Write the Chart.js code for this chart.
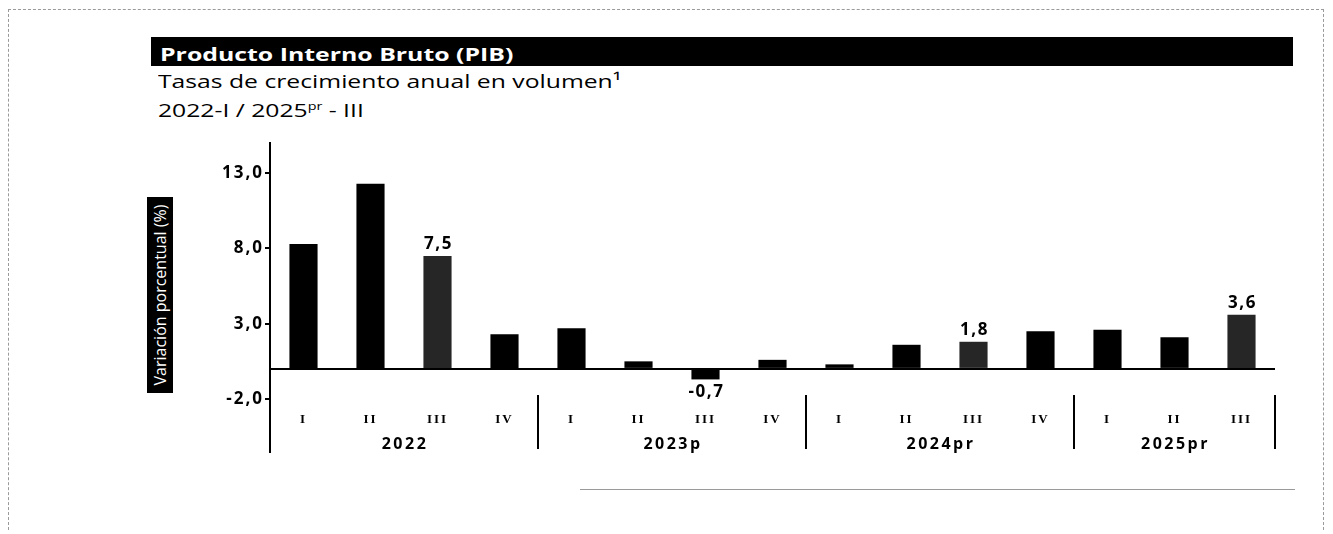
<!DOCTYPE html>
<html lang="es">
<head>
<meta charset="utf-8">
<title>Producto Interno Bruto (PIB)</title>
<script src="https://cdn.jsdelivr.net/npm/chart.js@4/dist/chart.umd.min.js"></script>
<style>
  html, body { margin: 0; padding: 0; background: #fff; }
  body { width: 1333px; height: 534px; position: relative; overflow: hidden; font-family: "Open Sans", sans-serif; }
  #frame { position: absolute; left: 8px; top: 9px; width: 1314px; height: 520px; border: 1px dashed #9a9a9a; border-bottom: none; }
  #bottomLine { position: absolute; left: 580px; top: 489px; width: 715px; border-top: 1px solid #9a9a9a; }
  #titleBar { position: absolute; left: 151px; top: 37px; width: 1142px; height: 29px; background: #000; color: #fff; font-weight: bold; font-size: 18px; line-height: 34px; padding-left: 9px; box-sizing: border-box; overflow: hidden; white-space: nowrap; }
  .wide { display: inline-block; transform: scaleX(1.38); transform-origin: left center; white-space: nowrap; }
  .sub { position: absolute; left: 158px; font-size: 19px; line-height: 20px; color: #000; }
  .sub sup { font-size: 11px; vertical-align: 7px; line-height: 0; }
  #yTitle { position: absolute; left: 62px; top: 282px; width: 196px; height: 26px; background: #000; color: #fff; font-size: 16px; line-height: 26px; text-align: center; transform: rotate(-90deg); }
  #chart { position: absolute; left: 0; top: 0; }
</style>
</head>
<body>
<div id="frame"></div>
<div id="bottomLine"></div>
<div id="titleBar"><span class="wide">Producto Interno Bruto (PIB)</span></div>
<div class="sub" style="top: 71px;"><span class="wide" style="transform: scaleX(1.3);">Tasas de crecimiento anual en volumen¹</span></div>
<div class="sub" style="top: 100px;"><span class="wide" style="transform: scaleX(1.3);">2022-I / 2025<sup>pr</sup> - III</span></div>
<div id="yTitle">Variación porcentual (%)</div>
<canvas id="chart" width="1333" height="534"></canvas>
<script>
"use strict";

const quarters = ["I", "II", "III", "IV", "I", "II", "III", "IV", "I", "II", "III", "IV", "I", "II", "III"];
const years = ["2022", "2023p", "2024pr", "2025pr"];
const yearOfQuarter = [0, 0, 0, 0, 1, 1, 1, 1, 2, 2, 2, 2, 3, 3, 3];
const growth = [8.3, 12.3, 7.5, 2.3, 2.7, 0.5, -0.7, 0.6, 0.3, 1.6, 1.8, 2.5, 2.6, 2.1, 3.6];
const labelled = [2, 6, 10, 14];
const highlighted = [2, 10, 14];
const yTicks = [-2, 0, 3, 8, 13];

const fmt = (v) => v.toFixed(1).replace(".", ",");

// axis extension, year separators, year names and value labels
const extras = {
	id: "extras",
	beforeDraw(chart) {
		chart.ctx.letterSpacing = "2px";
	},
	afterDraw(chart) {
		const { ctx } = chart;
		const x = chart.scales.x;
		const y = chart.scales.y;
		const step = x.getPixelForValue(1) - x.getPixelForValue(0);
		ctx.save();
		ctx.strokeStyle = "#000";
		ctx.lineWidth = 2;
		ctx.beginPath();
		ctx.moveTo(x.left, y.bottom);
		ctx.lineTo(x.left, y.bottom + 54);
		for (let i = 1; i <= quarters.length; i++) {
			if (i < quarters.length && yearOfQuarter[i] === yearOfQuarter[i - 1]) continue;
			const px = x.getPixelForValue(i - 1) + step / 2;
			ctx.moveTo(px, y.bottom - 4);
			ctx.lineTo(px, y.bottom + 50);
		}
		ctx.stroke();

		ctx.fillStyle = "#000";
		ctx.textAlign = "center";
		ctx.font = "bold 16px 'Open Sans'";
		ctx.letterSpacing = "2.5px";
		ctx.textBaseline = "middle";
		years.forEach((name, k) => {
			const idx = yearOfQuarter.map((g, i) => (g === k ? i : -1)).filter((i) => i >= 0);
			const mid = idx.reduce((s, i) => s + x.getPixelForValue(i), 0) / idx.length;
			ctx.fillText(name, mid + 1, y.bottom + 45);
		});

		const meta = chart.getDatasetMeta(0);
		ctx.font = "bold 17px 'Open Sans'";
		ctx.letterSpacing = "1.5px";
		labelled.forEach((i) => {
			const bar = meta.data[i];
			if (growth[i] >= 0) {
				ctx.textBaseline = "bottom";
				ctx.fillText(fmt(growth[i]), bar.x + 1, bar.y - 3);
			} else {
				ctx.textBaseline = "top";
				ctx.fillText(fmt(growth[i]), bar.x + 1, bar.y + 4);
			}
		});
		ctx.restore();
	},
};

new Chart(document.getElementById("chart"), {
	type: "bar",
	data: {
		labels: quarters,
		datasets: [
			{
				data: growth,
				backgroundColor: growth.map((v, i) => (highlighted.includes(i) ? "#262626" : "#000")),
				barPercentage: 0.42,
				categoryPercentage: 1,
			},
		],
	},
	options: {
		responsive: false,
		animation: false,
		layout: { padding: { left: 200, right: 58, top: 143, bottom: 85 } },
		plugins: {
			legend: { display: false },
			tooltip: { enabled: false },
		},
		scales: {
			x: {
				offset: true,
				grid: { display: false },
				border: { display: false },
				ticks: {
					color: "#000",
					padding: 5,
					font: { family: "'Liberation Serif'", size: 13, weight: "bold" },
				},
				afterFit: (scale) => {
					scale.height = 50;
				},
			},
			y: {
				min: -2,
				max: 15,
				afterBuildTicks: (scale) => {
					scale.ticks = yTicks.map((v) => ({ value: v }));
				},
				afterFit: (scale) => {
					scale.width = 70;
				},
				border: { display: true, color: "#000", width: 2 },
				grid: {
					color: (c) => (c.tick && c.tick.value === 0 ? "#000" : "rgba(0,0,0,0)"),
					tickColor: (c) => (c.tick && c.tick.value === 0 ? "rgba(0,0,0,0)" : "#000"),
					lineWidth: 2,
					tickLength: 5,
				},
				ticks: {
					color: "#000",
					padding: 1,
					font: { family: "'Open Sans'", size: 17, weight: "bold" },
					callback: (value) => (value === 0 ? "" : fmt(value)),
				},
			},
		},
	},
	plugins: [extras],
});
</script>
</body>
</html>
